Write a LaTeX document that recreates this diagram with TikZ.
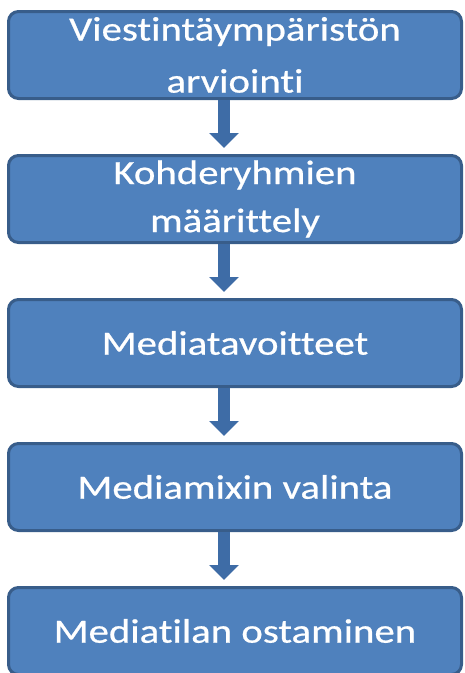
\documentclass[tikz,border=0pt]{standalone}
\usepackage{fontspec}
\setmainfont{Carlito}[FakeStretch=1.2,FakeBold=0.6,Ligatures=NoCommon]
\usetikzlibrary{positioning,arrows.meta}

\definecolor{boxblue}{HTML}{4F81BD}
\definecolor{boxedge}{HTML}{385D8A}
\definecolor{arrowblue}{HTML}{3E6CA6}

\begin{document}
\begin{tikzpicture}[x=1pt,y=1pt,node distance=54pt,
  phase/.style={draw=boxedge,fill=boxblue,line width=3pt,rounded corners=10pt,
    minimum width=453pt,minimum height=87pt,inner sep=0pt,text=white,
    align=center,font=\fontsize{34}{44}\selectfont},
  flow/.style={arrowblue,line width=12pt,shorten >=6pt,
    -{Triangle[width=29pt,length=15pt]}}]

\useasboundingbox (0,0) rectangle (465,-673);

%%%%%%%%%%%%%%%%%%%%%% STEPS

\node[phase] (arvio) at (235,-55) {Viestintäympäristön\\[8pt]arviointi};
\node[phase,below=of arvio] (kohde) {Kohderyhmien\\[4pt]määrittely};
\node[phase,below=of kohde] (tavoite) {Mediatavoitteet};
\node[phase,below=of tavoite] (mix) {Mediamixin valinta};
\node[phase,below=of mix] (osto) {Mediatilan ostaminen};

\draw[flow] ([xshift=-11pt]arvio.south) -- ([xshift=-11pt]kohde.north);
\draw[flow] ([xshift=-11pt]kohde.south) -- ([xshift=-11pt]tavoite.north);
\draw[flow] ([xshift=-11pt]tavoite.south) -- ([xshift=-11pt]mix.north);
\draw[flow] ([xshift=-11pt]mix.south) -- ([xshift=-11pt]osto.north);

\end{tikzpicture}
\end{document}
